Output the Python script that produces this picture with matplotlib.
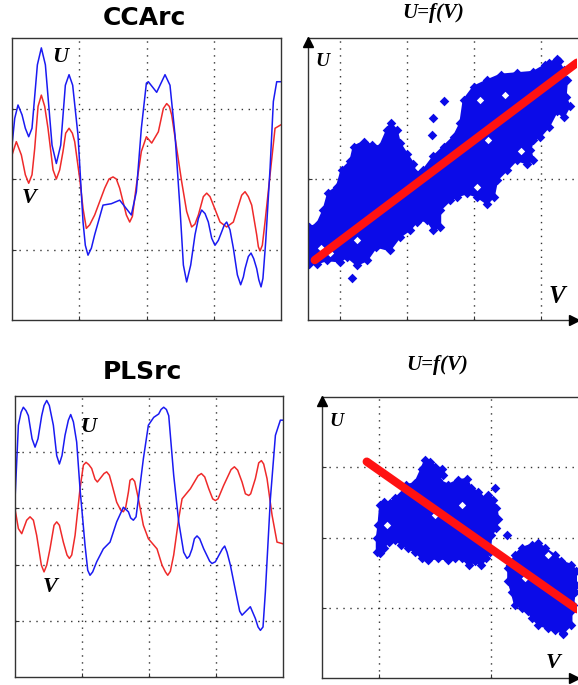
import matplotlib
matplotlib.use("Agg")
import matplotlib.pyplot as plt
from matplotlib.patches import Polygon

# ---------------- CCArc time series (grid units) ----------------
cca_u_t = [0.0, 0.04, 0.089, 0.149, 0.198, 0.248, 0.297, 0.377, 0.436, 0.496,
           0.595, 0.659, 0.724, 0.793, 0.848, 0.902, 0.981, 1.056, 1.09, 1.130,
           1.18, 1.229, 1.353, 1.477, 1.601, 1.700, 1.774, 1.849, 1.923, 1.998,
           2.027, 2.151, 2.275, 2.349, 2.424, 2.498, 2.548, 2.597, 2.657, 2.721,
           2.771, 2.820, 2.870, 2.919, 2.969, 3.018, 3.068, 3.117, 3.157, 3.192,
           3.241, 3.291, 3.351, 3.400, 3.440, 3.465, 3.514, 3.554, 3.594, 3.638,
           3.67, 3.703, 3.731, 3.772, 3.837, 3.886, 3.936, 4.0]
cca_u = [0.48, 0.86, 1.05, 0.91, 0.72, 0.60, 0.72, 1.62, 1.86, 1.62,
         0.48, 0.22, 0.48, 1.33, 1.48, 1.33, 0.62, -0.61, -0.94, -1.08,
         -0.98, -0.79, -0.37, -0.35, -0.30, -0.42, -0.51, -0.18, 0.72, 1.36,
         1.38, 1.23, 1.48, 1.33, 0.62, -0.42, -1.22, -1.46, -1.22, -0.79,
         -0.56, -0.44, -0.49, -0.61, -0.84, -0.94, -0.87, -0.75, -0.65, -0.61,
         -0.72, -0.98, -1.36, -1.50, -1.39, -1.27, -1.10, -1.05, -1.13, -1.27,
         -1.43, -1.53, -1.41, -0.89, 0.15, 1.10, 1.38, 1.38]
cca_v_t = [0.0, 0.064, 0.139, 0.198, 0.248, 0.297, 0.337, 0.387, 0.436, 0.486,
           0.535, 0.61, 0.659, 0.709, 0.758, 0.798, 0.848, 0.897, 0.932, 1.006,
           1.056, 1.105, 1.155, 1.229, 1.378, 1.442, 1.502, 1.551, 1.601, 1.700,
           1.750, 1.79, 1.849, 1.923, 1.998, 2.077, 2.176, 2.25, 2.300, 2.339,
           2.374, 2.449, 2.523, 2.597, 2.671, 2.72, 2.771, 2.845, 2.895, 2.944,
           2.994, 3.093, 3.192, 3.291, 3.415, 3.465, 3.514, 3.564, 3.638, 3.663,
           3.688, 3.722, 3.762, 3.837, 3.911, 4.0]
cca_v = [0.34, 0.53, 0.34, 0.06, -0.06, 0.06, 0.43, 1.03, 1.19, 1.03,
         0.72, 0.13, 0.0, 0.13, 0.39, 0.65, 0.72, 0.65, 0.53, 0.01,
         -0.42, -0.70, -0.65, -0.51, -0.13, 0.0, 0.03, 0.0, -0.13, -0.51,
         -0.61, -0.53, -0.09, 0.39, 0.60, 0.51, 0.67, 1.0, 1.07, 1.03,
         0.91, 0.43, -0.04, -0.46, -0.68, -0.64, -0.51, -0.25, -0.20, -0.25,
         -0.37, -0.61, -0.68, -0.61, -0.23, -0.18, -0.25, -0.37, -0.79, -0.96,
         -1.02, -0.94, -0.61, 0.06, 0.72, 0.77]

# ---------------- PLSrc time series (grid units) ----------------
pls_u_t = [0.0, 0.05, 0.09, 0.124, 0.164, 0.199, 0.254, 0.299, 0.343, 0.398,
           0.433, 0.473, 0.512, 0.572, 0.622, 0.662, 0.701, 0.746, 0.796, 0.831,
           0.871, 0.920, 0.970, 1.045, 1.085, 1.119, 1.159, 1.219, 1.318, 1.418,
           1.517, 1.617, 1.692, 1.726, 1.766, 1.806, 1.841, 1.915, 1.990, 2.070,
           2.144, 2.179, 2.219, 2.259, 2.294, 2.368, 2.443, 2.517, 2.567, 2.602,
           2.642, 2.677, 2.716, 2.756, 2.816, 2.905, 2.940, 2.99, 3.040, 3.095,
           3.129, 3.164, 3.214, 3.313, 3.353, 3.388, 3.438, 3.512, 3.587, 3.627,
           3.662, 3.701, 3.736, 3.811, 3.886, 3.960, 4.0]
pls_u = [0.67, 1.98, 2.21, 2.30, 2.24, 2.15, 1.74, 1.59, 1.74, 2.15,
         2.33, 2.42, 2.33, 1.98, 1.44, 1.29, 1.44, 1.80, 2.07, 2.17,
         2.04, 1.68, 0.85, -0.16, -0.60, -0.69, -0.63, -0.45, -0.22, -0.10,
         0.26, 0.52, 0.44, 0.33, 0.29, 0.35, 0.67, 1.38, 1.98, 2.12,
         2.18, 2.26, 2.30, 2.26, 2.15, 1.09, 0.26, -0.28, -0.39, -0.35,
         -0.22, -0.04, 0.01, -0.04, -0.22, -0.44, -0.48, -0.45, -0.34, -0.22,
         -0.17, -0.28, -0.51, -1.10, -1.33, -1.40, -1.34, -1.25, -1.46, -1.61,
         -1.67, -1.61, -0.99, 0.67, 1.80, 2.07, 2.07]
pls_v_t = [0.0, 0.05, 0.1, 0.174, 0.224, 0.274, 0.323, 0.393, 0.433, 0.473,
           0.522, 0.582, 0.622, 0.662, 0.721, 0.776, 0.811, 0.846, 0.896, 0.970,
           1.02, 1.060, 1.1, 1.144, 1.194, 1.229, 1.269, 1.328, 1.368, 1.408,
           1.443, 1.517, 1.577, 1.617, 1.652, 1.692, 1.716, 1.751, 1.786, 1.841,
           1.915, 1.990, 2.119, 2.194, 2.244, 2.279, 2.318, 2.368, 2.443, 2.493,
           2.617, 2.731, 2.781, 2.831, 2.891, 2.95, 2.990, 3.03, 3.114, 3.224,
           3.274, 3.323, 3.388, 3.438, 3.488, 3.517, 3.587, 3.637, 3.677, 3.711,
           3.761, 3.836, 3.910, 4.0]
pls_v = [0.49, 0.14, 0.05, 0.29, 0.35, 0.29, 0.02, -0.51, -0.63, -0.51,
         -0.22, 0.20, 0.26, 0.20, -0.10, -0.33, -0.39, -0.33, 0.02, 0.85,
         1.27, 1.32, 1.28, 1.21, 1.02, 0.97, 1.03, 1.12, 1.15, 1.09,
         0.94, 0.61, 0.47, 0.44, 0.52, 0.79, 1.00, 1.03, 0.98, 0.67,
         0.20, -0.04, -0.22, -0.51, -0.63, -0.69, -0.62, -0.33, 0.32, 0.67,
         0.85, 1.08, 1.12, 1.06, 0.85, 0.67, 0.64, 0.67, 0.91, 1.19,
         1.24, 1.18, 0.97, 0.76, 0.73, 0.76, 1.03, 1.31, 1.35, 1.29,
         1.03, 0.38, -0.10, -0.13]

# ---------------- CCA scatter U=f(V): cloud outline + fit ----------------
cca_cloud_v = [-1.95, -1.95, -1.84, -1.74, -1.67, -1.54, -1.47, -1.34, -1.29, -1.14,
               -1.02, -0.90, -0.79, -0.74, -0.65, -0.60, -0.50, -0.40, -0.37, -0.25,
               -0.10, 0.05, 0.20, 0.30, 0.35, 0.50, 0.70, 0.90, 1.14, 1.39,
               1.57, 1.74, 1.84, 1.89, 1.87, 1.93, 1.84, 1.74, 1.62, 1.49,
               1.39, 1.34, 1.39, 1.29, 1.14, 1.00, 0.85, 0.80, 0.70, 0.55,
               0.40, 0.25, 0.15, 0.00, 0.00, -0.10, -0.20, -0.35, -0.45, -0.60,
               -0.75, -0.95, -1.09, -1.24, -1.39, -1.49, -1.69, -1.84]
cca_cloud_u = [-1.20, -0.68, -0.65, -0.44, -0.20, -0.11, 0.13, 0.25, 0.46, 0.53,
               0.48, 0.46, 0.70, 0.79, 0.70, 0.51, 0.36, 0.22, 0.08, 0.13,
               0.32, 0.46, 0.60, 0.79, 1.12, 1.31, 1.40, 1.48, 1.50, 1.52,
               1.62, 1.70, 1.55, 1.40, 1.17, 1.03, 0.88, 0.96, 0.74, 0.60,
               0.55, 0.41, 0.27, 0.22, 0.27, 0.13, -0.01, -0.25, -0.35, -0.25,
               -0.20, -0.25, -0.30, -0.44, -0.68, -0.72, -0.58, -0.61, -0.72, -0.82,
               -1.01, -0.96, -1.15, -1.22, -1.10, -1.17, -1.15, -1.20]
cca_loose_v = [-0.10, -0.12, 0.05, -1.32, 1.62, 1.77]
cca_loose_u = [0.87, 0.62, 1.10, -1.41, 1.64, 1.68]
cca_gap_v = [-1.78, -1.64, -1.24, 0.55, 0.60, 0.97, 0.72, 1.20]
cca_gap_u = [-0.98, -1.05, -0.87, -0.11, 1.12, 1.19, 0.55, 0.40]
cca_fit_v = [-1.87, 2.04]
cca_fit_u = [-1.15, 1.65]

# ---------------- PLS scatter U=f(V): two cloud outlines + fit ----------------
pls_cloud1_v = [-1.04, -1.04, -1.01, -0.98, -0.92, -0.80, -0.71, -0.60, -0.51, -0.36,
                -0.24, -0.18, -0.09, 0.00, 0.12, 0.15, 0.06, 0.24, 0.42, 0.57,
                0.65, 0.77, 0.83, 0.95, 1.04, 1.10, 1.13, 1.10, 1.01, 0.98,
                0.92, 0.83, 0.71, 0.60, 0.48, 0.36, 0.24, 0.06, -0.12, -0.24,
                -0.36, -0.48, -0.60, -0.71, -0.83, -0.92, -0.98]
pls_cloud1_u = [-0.20, -0.01, 0.18, 0.46, 0.51, 0.49, 0.56, 0.61, 0.75, 0.77,
                0.98, 1.10, 1.08, 1.01, 0.98, 0.89, 0.82, 0.75, 0.82, 0.83,
                0.70, 0.65, 0.56, 0.61, 0.53, 0.42, 0.27, 0.13, 0.04, -0.20,
                -0.29, -0.39, -0.34, -0.39, -0.29, -0.29, -0.32, -0.29, -0.32, -0.29,
                -0.20, -0.15, -0.10, -0.03, -0.06, -0.15, -0.22]
pls_cloud2_v = [1.31, 1.34, 1.43, 1.55, 1.73, 1.85, 1.96, 2.14, 2.26, 2.44,
                2.53, 2.56, 2.50, 2.47, 2.44, 2.44, 2.29, 2.14, 2.02, 1.85,
                1.73, 1.67, 1.55, 1.43, 1.37, 1.31]
pls_cloud2_u = [-0.43, -0.39, -0.25, -0.15, -0.10, -0.08, -0.15, -0.25, -0.34, -0.39,
                -0.48, -0.67, -0.77, -0.96, -1.05, -1.24, -1.36, -1.31, -1.29, -1.24,
                -1.14, -1.05, -1.00, -0.96, -0.77, -0.62]
pls_loose_v = [1.07, 1.28, 2.29]
pls_loose_u = [0.70, 0.04, -1.38]
pls_gap_v = [-0.86, 0.00, 0.48, 1.61, 2.02]
pls_gap_u = [0.18, 0.32, 0.46, -0.58, -0.25]
pls_fit_v = [-1.22, 2.54]
pls_fit_u = [1.08, -1.02]

BLUE = "#1a1af2"
RED = "#ef2a2a"
CLOUD = "#0b0be8"
FIT = "#ff1212"
FRAME = "#333333"
SERIF = ["Liberation Serif", "DejaVu Serif"]

fig = plt.figure(figsize=(5.78, 6.85), dpi=100)


def style_axes(ax, xt, yt):
    ax.set_xticks(xt)
    ax.set_yticks(yt)
    ax.tick_params(direction="in", length=3, width=0.8, color=FRAME,
                   labelbottom=False, labelleft=False)
    ax.grid(True, color=FRAME, linestyle=(0, (1, 4)), linewidth=1.0)
    ax.set_axisbelow(True)
    for s in ax.spines.values():
        s.set_color(FRAME)
        s.set_linewidth(1.0)


def series_panel(rect, title, title_xy, u_t, u, v_t, v, ylim, yt, u_xy, v_xy):
    ax = fig.add_axes(rect)
    ax.plot(v_t, v, color=RED, lw=1.1)
    ax.plot(u_t, u, color=BLUE, lw=1.1)
    ax.set_xlim(0, 4)
    ax.set_ylim(*ylim)
    style_axes(ax, [1, 2, 3], yt)
    ax.text(*u_xy, "U", family=SERIF, style="italic", fontweight="bold", fontsize=16,
            ha="center", va="center")
    ax.text(*v_xy, "V", family=SERIF, style="italic", fontweight="bold", fontsize=16,
            ha="center", va="center")
    ax.text(*title_xy, title, transform=ax.transAxes, ha="center", va="center",
            fontsize=18, fontweight="bold")
    return ax


def scatter_panel(rect, title_xy, clouds, loose_v, loose_u, gap_v, gap_u, fit_v, fit_u,
                  xlim, xt, yt, u_xy, v_xy, u_size, v_size):
    ax = fig.add_axes(rect)
    for cv, cu in clouds:
        ax.add_patch(Polygon(list(zip(cv, cu)), closed=True, fc=CLOUD, ec=CLOUD,
                             lw=1.5, zorder=2))
        ax.scatter(cv, cu, marker="D", s=24, c=CLOUD, linewidths=0, zorder=2)
    ax.scatter(loose_v, loose_u, marker="D", s=24, c=CLOUD, linewidths=0, zorder=2)
    ax.scatter(gap_v, gap_u, marker="D", s=14, c="white", linewidths=0, zorder=2.5)
    ax.plot(fit_v, fit_u, color=FIT, lw=6, solid_capstyle="round", zorder=3)
    ax.set_xlim(*xlim)
    ax.set_ylim(-2, 2)
    style_axes(ax, xt, yt)
    ax.spines["right"].set_visible(False)
    ax.plot([0], [0.985], marker="^", ms=7, color="black", transform=ax.transAxes,
            clip_on=False, zorder=5)
    ax.plot([0.99], [0], marker=">", ms=7, color="black", transform=ax.transAxes,
            clip_on=False, zorder=5)
    ax.text(*u_xy, "U", family=SERIF, style="italic", fontweight="bold", fontsize=u_size,
            ha="center", va="center")
    ax.text(*v_xy, "V", family=SERIF, style="italic", fontweight="bold", fontsize=v_size,
            ha="center", va="center")
    ax.text(*title_xy, "U=f(V)", transform=ax.transAxes, ha="center", va="center",
            family=SERIF, style="italic", fontweight="bold", fontsize=15)
    return ax


series_panel([0.0208, 0.5328, 0.4654, 0.4117], "CCArc", (0.494, 1.071),
             cca_u_t, cca_u, cca_v_t, cca_v, (-2, 2), [-1, 0, 1], (0.71, 1.73), (0.26, -0.27))
series_panel([0.0260, 0.0117, 0.4637, 0.4102], "PLSrc", (0.474, 1.085),
             pls_u_t, pls_u, pls_v_t, pls_v, (-2.5, 2.5), [-1.5, -0.5, 0.5, 1.5],
             (1.09, 1.95), (0.52, -0.9))
scatter_panel([0.5329, 0.5328, 0.4654, 0.4117], (0.465, 1.089),
              [(cca_cloud_v, cca_cloud_u)], cca_loose_v, cca_loose_u, cca_gap_v, cca_gap_u,
              cca_fit_v, cca_fit_u,
              (-1.97, 2.04), [-1.5, -0.5, 0.5, 1.5], [0], (-1.75, 1.66), (1.74, -1.67), 14, 18)
scatter_panel([0.5571, 0.0102, 0.4412, 0.4102], (0.451, 1.114),
              [(pls_cloud1_v, pls_cloud1_u), (pls_cloud2_v, pls_cloud2_u)],
              pls_loose_v, pls_loose_u, pls_gap_v, pls_gap_u, pls_fit_v, pls_fit_u,
              (-2.02, 2.54), [-1, 1], [-1, 0, 1], (-1.76, 1.65), (2.11, -1.78), 14, 16)

fig.savefig("out.png", dpi=100)
